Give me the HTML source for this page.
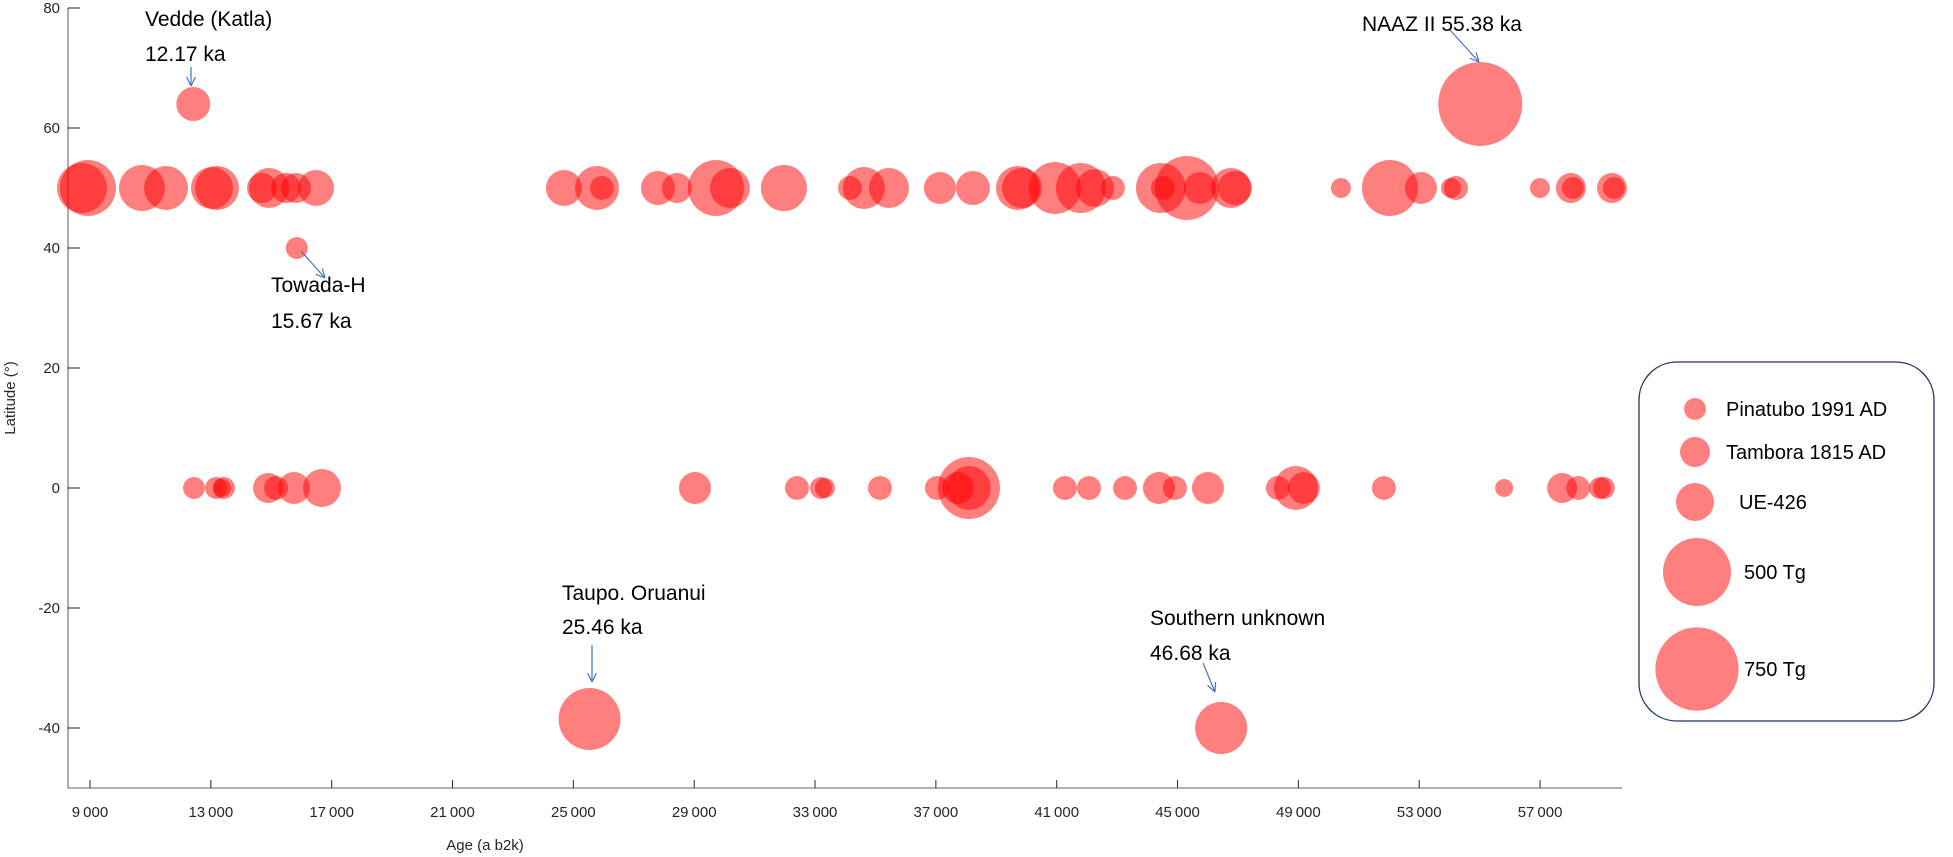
<!DOCTYPE html>
<html><head><meta charset="utf-8">
<style>
html,body{margin:0;padding:0;background:#fff;}
svg{display:block;font-family:"Liberation Sans",sans-serif;}
.tick{font-size:15px;fill:#262626;}
.ann{font-size:21px;fill:#000;}
.leg{font-size:20px;fill:#000;}
</style></head>
<body>
<svg id="chart" width="1953" height="857" viewBox="0 0 1953 857">
<g id="axes"></g>
<g id="marks"></g>
<g id="annots"></g>
<g id="legend"></g>
</svg>
<script>
// ---- data ----
const nhAges = [8735,8934,10721,11516,13038,13204,14925,14693,15488,15819,16481,24689,25782,25947,27801,28430,29721,30184,31971,34156,34619,35447,37135,38227,39717,39849,40942,41802,42266,42862,44450,44516,45311,45741,46767,46900,50408,52030,53056,54049,54215,56995,58021,58087,59378,59444];
const nhMass = [270,339,229,209,191,209,173,97,97,97,140,140,209,62,125,97,339,173,229,62,191,173,111,125,209,173,293,270,156,62,270,62,443,111,173,125,43,339,111,43,62,43,97,52,97,52];
const nhLat = 50;
const eqAges = [12442,13171,13435,13369,14892,15157,15752,16679,29026,32402,33196,33329,35149,37036,38095,38095,37731,41273,42067,43259,44384,44914,46006,48323,48919,49183,51831,55810,57730,58260,58981,59113];
const eqMass = [52,52,52,35,97,62,111,156,111,62,52,43,62,62,416,209,111,62,62,62,111,62,111,62,209,111,62,35,97,62,52,52];
const eqLat = 0;
const specNames = ["Vedde (Katla)","Towada-H","Taupo. Oruanui","Southern unknown","NAAZ II"];
const specLabels = ["12.17 ka","15.67 ka","25.46 ka","46.68 ka","55.38 ka"];
const specAges = [12420,15845,25536,46445,55020];
const specLats = [64,40,-38.5,-40,64];
const specMass = [125,52,416,293,763];
const xTicks = [9000,13000,17000,21000,25000,29000,33000,37000,41000,45000,49000,53000,57000];
const yTicks = [-40,-20,0,20,40,60,80];
const legLabels = ["Pinatubo 1991 AD","Tambora 1815 AD","UE-426","500 Tg","750 Tg"];
const legMass = [52,97,156,500,750];

// ---- scales ----
const X0=68, X1=1622, Y0=8, Y1=788;
const xMin=8272, xMax=59712, yMin=-50, yMax=80;
const xs = a => X0 + (a-xMin)/(xMax-xMin)*(X1-X0);
const ys = l => Y1 - (l-yMin)/(yMax-yMin)*(Y1-Y0);
const rs = m => 1.52*Math.sqrt(m);
const NS="http://www.w3.org/2000/svg";
function mk(tag, attrs, parent){const e=document.createElementNS(NS,tag);for(const k in attrs)e.setAttribute(k,attrs[k]);parent.appendChild(e);return e;}

const axes=document.getElementById('axes');
let e=mk('line',{x1:X0,y1:Y0,x2:X0,y2:Y1,stroke:'#808080','stroke-width':1.3},axes);


e=mk('line',{x1:X0,y1:Y1,x2:X1,y2:Y1,stroke:'#808080','stroke-width':1.3},axes);


yTicks.forEach(v=>{
  const y=ys(v);
  mk('line',{x1:X0,y1:y,x2:X0+12,y2:y,stroke:'#262626','stroke-width':1},axes);
  const t=mk('text',{x:X0-8,y:y+5,'text-anchor':'end',class:'tick'},axes);
  t.textContent=String(v);
  
  
});
xTicks.forEach(v=>{
  const x=xs(v);
  mk('line',{x1:x,y1:Y1,x2:x,y2:Y1-8,stroke:'#262626','stroke-width':1},axes);
  const t=mk('text',{x:x,y:Y1+29,'text-anchor':'middle',class:'tick'},axes);
  const s=String(v); t.textContent=s.slice(0,s.length-3)+'\u2009'+s.slice(-3);
  
  
});
e=mk('text',{x:485,y:850,'text-anchor':'middle',class:'tick','font-size':'16'},axes);
e.textContent='Age (a b2k)';


e=mk('text',{x:0,y:0,'text-anchor':'middle',class:'tick',transform:'translate(15,398) rotate(-90)','font-size':'16'},axes);
e.textContent='Latitude (°)';



const marks=document.getElementById('marks');
function bubble(a,l,m,name){
  const c=mk('circle',{cx:xs(a),cy:ys(l),r:rs(m),fill:'rgba(255,0,0,0.5)'},marks);
  
  
}
nhAges.forEach((a,i)=>bubble(a,nhLat,nhMass[i],'bubble-nh'));
eqAges.forEach((a,i)=>bubble(a,eqLat,eqMass[i],'bubble-tropical'));
specAges.forEach((a,i)=>bubble(a,specLats[i],specMass[i],'bubble-special'));

// annotations (text + arrow)
const ann=document.getElementById('annots');
const annDefs=[
 {lines:[specNames[0],specLabels[0]],tx:145,ty:[26,61],ar:[191,67,191,86]},
 {lines:[specNames[1],specLabels[1]],tx:271,ty:[292,328],ar:[301,251,325,278]},
 {lines:[specNames[2],specLabels[2]],tx:562,ty:[600,634],ar:[592,645,592,682]},
 {lines:[specNames[3],specLabels[3]],tx:1150,ty:[625,660],ar:[1203,663,1215,692]},
 {lines:[specNames[4]+'  '+specLabels[4]],tx:1362,ty:[31],ar:[1450,30,1479,62]}
];
annDefs.forEach(d=>{
  d.lines.forEach((s,j)=>{
    const t=mk('text',{x:d.tx,y:d.ty[j],class:'ann','xml:space':'preserve'},ann);
    t.textContent=s;
    
    
  });
  const [x1,y1,x2,y2]=d.ar;
  const g=mk('g',{stroke:'#4472c4','stroke-width':1.2,fill:'none'},ann);
  
  
  mk('line',{x1,y1,x2,y2},g);
  const ang=Math.atan2(y2-y1,x2-x1), L=10;
  [0.45,-0.45].forEach(o=>mk('line',{x1:x2,y1:y2,x2:x2-L*Math.cos(ang+o),y2:y2-L*Math.sin(ang+o)},g));
});

// legend
const leg=document.getElementById('legend');
e=mk('rect',{x:1639,y:362,width:295,height:359,rx:38,ry:38,fill:'#fff',stroke:'#1f3864','stroke-width':1.3},leg);


const legCy=[409,452,502,572,669], legCx=[1695,1695,1695,1697,1697], legTx=[1726,1726,1739,1744,1744];
legLabels.forEach((s,i)=>{
  const c=mk('circle',{cx:legCx[i],cy:legCy[i],r:rs(legMass[i]),fill:'rgba(255,0,0,0.5)'},leg);
  
  
  const t=mk('text',{x:legTx[i],y:legCy[i]+7,class:'leg'},leg);
  t.textContent=s;
  
  
});
</script>
</body></html>
